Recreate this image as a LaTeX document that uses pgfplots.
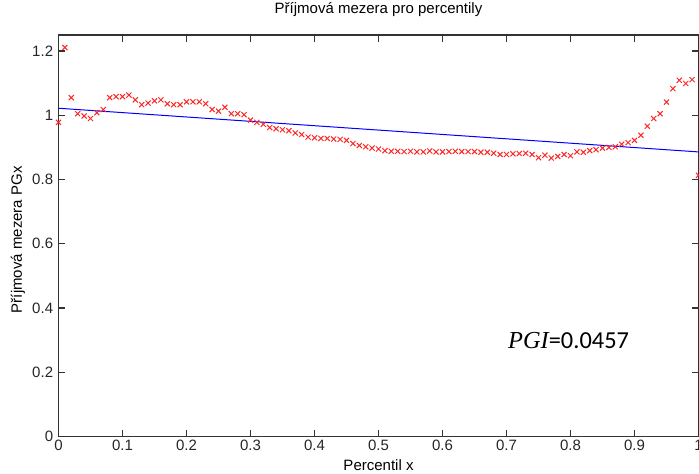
\documentclass[border=0pt]{standalone}
\usepackage{fontspec}
\setmainfont{Liberation Sans}
\newfontfamily\calib{Carlito}
\newfontfamily\serifit{Liberation Serif}
\usepackage{pgfplots}
\pgfplotsset{compat=1.18}
\usetikzlibrary{calc}
\pgfplotstableread{
x y
0.00 0.978
0.01 1.211
0.02 1.055
0.03 1.005
0.04 0.998
0.05 0.990
0.06 1.008
0.07 1.018
0.08 1.055
0.09 1.058
0.10 1.058
0.11 1.063
0.12 1.048
0.13 1.033
0.14 1.038
0.15 1.045
0.16 1.048
0.17 1.036
0.18 1.033
0.19 1.033
0.20 1.042
0.21 1.042
0.22 1.042
0.23 1.036
0.24 1.018
0.25 1.013
0.26 1.025
0.27 1.005
0.28 1.005
0.29 1.002
0.30 0.985
0.31 0.978
0.32 0.972
0.33 0.962
0.34 0.958
0.35 0.955
0.36 0.952
0.37 0.945
0.38 0.940
0.39 0.932
0.40 0.930
0.41 0.928
0.42 0.928
0.43 0.926
0.44 0.925
0.45 0.922
0.46 0.912
0.47 0.906
0.48 0.902
0.49 0.898
0.50 0.895
0.51 0.890
0.52 0.888
0.53 0.888
0.54 0.887
0.55 0.888
0.56 0.886
0.57 0.886
0.58 0.889
0.59 0.886
0.60 0.886
0.61 0.887
0.62 0.888
0.63 0.887
0.64 0.887
0.65 0.887
0.66 0.885
0.67 0.885
0.68 0.882
0.69 0.878
0.70 0.878
0.71 0.880
0.72 0.881
0.73 0.882
0.74 0.878
0.75 0.868
0.76 0.876
0.77 0.867
0.78 0.872
0.79 0.878
0.80 0.874
0.81 0.886
0.82 0.885
0.83 0.890
0.84 0.893
0.85 0.898
0.86 0.900
0.87 0.902
0.88 0.910
0.89 0.915
0.90 0.922
0.91 0.938
0.92 0.966
0.93 0.990
0.94 1.005
0.95 1.041
0.96 1.083
0.97 1.109
0.98 1.099
0.99 1.111
1.00 0.813
}\pgcdata
\begin{document}
\begin{tikzpicture}
\begin{axis}[
  scale only axis,
  width=320pt, height=200.75pt,
  xmin=0, xmax=1, ymin=0, ymax=1.25,
  xtick={0,0.1,...,1.0},
  ytick={0,0.2,...,1.2},
  tick align=inside,
  major tick length=3.3pt,
  axis line style={black!80, line width=0.6pt},
  every tick/.style={black!80, line width=0.6pt},
  /pgf/number format/assume math mode=true,
  /pgf/number format/fixed,
  tick label style={font=\fontsize{7.5}{9}\selectfont, text=black!85},
  xticklabel style={anchor=base, inner sep=0pt, yshift=-6.9pt},
  yticklabel style={anchor=east, inner sep=0pt, xshift=-2.5pt},
  title={Příjmová mezera pro percentily},
  title style={at={(axis description cs:0.5,1)}, anchor=base, yshift=5pt, font=\fontsize{7.5}{9}\selectfont},
  xlabel={Percentil x},
  xlabel style={at={(axis description cs:0.5,0)}, anchor=base, yshift=-17pt, font=\fontsize{7.5}{9}\selectfont},
  ylabel={Příjmová mezera PGx},
  ylabel style={at={(axis description cs:-0.0633,0.49)}, anchor=center, font=\fontsize{7.5}{9}\selectfont},
  clip=false,
]
\addplot[blue, line width=0.5pt] coordinates {(0,1.022) (1,0.886)};
\addplot[only marks, mark=x, mark size=1.8pt, red!85, mark options={line width=0.5pt}] table[x=x,y=y] {\pgcdata};
\node[anchor=base west, inner sep=0pt, font=\fontsize{12.2}{14}\selectfont] at (axis cs:0.702,0.274) {{\serifit\itshape PGI}\calib =0.0457};
\end{axis}
\pgfresetboundingbox
\path[use as bounding box] ($(current axis.south west)+(-29.25pt,-18.25pt)$) rectangle ($(current axis.north east)+(0.25pt,17.5pt)$);
\end{tikzpicture}
\end{document}
